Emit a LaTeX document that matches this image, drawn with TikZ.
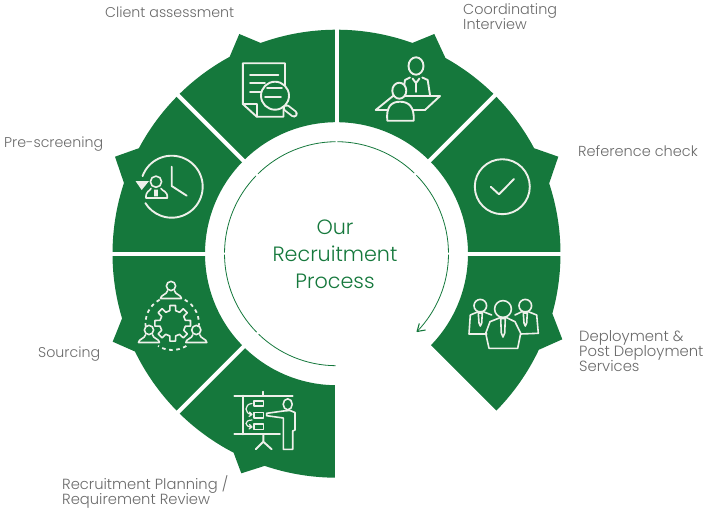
\documentclass[tikz,border=0pt]{standalone}
\usepackage{fontspec}
\setmainfont{Poppins Light}
\usetikzlibrary{calc}
\definecolor{brandgreen}{HTML}{15783C}
\definecolor{iconwhite}{HTML}{EEF0EA}
\definecolor{labelgray}{HTML}{6A6A6A}
\newcommand{\lblsize}[1]{\fontsize{#1}{15}\selectfont}
\tikzset{
  icon/.style={draw=iconwhite,line width=1.9pt,line join=round,line cap=round},
  iconthin/.style={icon,line width=1.6pt},
  iconfill/.style={icon,fill=brandgreen},
  dashring/.style={icon,line width=1.8pt,dash pattern=on 3.6pt off 3.6pt,line cap=butt},
  lbl/.style={anchor=west,align=left,inner sep=0pt,text=labelgray,font=\lblsize{14.2}},
  centertext/.style={align=center,inner sep=0pt,text=brandgreen,font=\fontsize{20.7}{27}\selectfont},
  thin ring/.style={draw=brandgreen,line width=0.8pt},
  member/.pic={
    \draw[iconthin] (0,0) circle (4.6);
    \draw[iconthin] (-10.5,-12.5) -- (10.5,-12.5) .. controls (10.5,-9) and (4,-8.5) .. (3.5,-4.8)
       (-3.5,-4.8) .. controls (-4,-8.5) and (-10.5,-9) .. (-10.5,-12.5);
  }
}
\begin{document}
\begin{tikzpicture}[x=1pt,y=1pt]
\useasboundingbox (0,-511) rectangle (710,0);
\coordinate (c) at (336.5,-253.7);
% ring
\fill[brandgreen] ($(c)+(270:224)$) arc[start angle=270,end angle=251.3,radius=224]
  -- (241.3,-473.3) -- ($(c)+(242.65:224)$) arc[start angle=242.65,end angle=205.9,radius=224]
  -- (112.7,-341.7) -- ($(c)+(196.8:224)$) arc[start angle=196.8,end angle=161.6,radius=224]
  -- (115,-156.7) -- ($(c)+(151.9:224)$) arc[start angle=151.9,end angle=118.5,radius=224]
  -- (239.3,-34) -- ($(c)+(109.8:224)$) arc[start angle=109.8,end angle=70.2,radius=224]
  -- (434.3,-34) -- ($(c)+(60.9:224)$) arc[start angle=60.9,end angle=28.1,radius=224]
  -- (558.3,-156.7) -- ($(c)+(18.3:224)$) arc[start angle=18.3,end angle=-15.5,radius=224]
  -- (562.3,-339.3) -- ($(c)+(-25.4:224)$) arc[start angle=-25.4,end angle=-45,radius=224]
  -- ($(c)+(-45:131.5)$) arc[start angle=-45,end angle=270,radius=131.5] -- cycle;
% gaps
\foreach \a in {0,45,90,135,180,225,270,315}
  \draw[white,line width=4pt] ($(c)+(\a:122)$) -- ($(c)+(\a:236)$);
% inner thin ring
\draw[thin ring] ($(c)+(269.5:112)$) arc[start angle=269.5,end angle=226,radius=112];
\draw[thin ring] ($(c)+(224.5:112)$) arc[start angle=224.5,end angle=180.5,radius=112];
\draw[thin ring] ($(c)+(179.5:112)$) arc[start angle=179.5,end angle=136,radius=112];
\draw[thin ring] ($(c)+(134.5:112)$) arc[start angle=134.5,end angle=90.5,radius=112];
\draw[thin ring] ($(c)+(89.5:112)$) arc[start angle=89.5,end angle=46,radius=112];
\draw[thin ring] ($(c)+(44.5:112)$) arc[start angle=44.5,end angle=0.5,radius=112];
\draw[thin ring] ($(c)+(-0.5:112)$) arc[start angle=-0.5,end angle=-44,radius=112] coordinate (tip);
\draw[thin ring,line width=1.1pt,line join=round] (419.3,-323.5) -- (tip) -- (425.5,-330);
\node[centertext] (title) at (335,-254.5) {Our\\Recruitment\\Process};
% labels
\node[lbl] (l1) at (105,-12) {Client assessment};
\node[lbl,font=\lblsize{14.4}] (l2) at (463,-17) {Coordinating\\Interview};
\node[lbl,font=\lblsize{14.5}] (l3) at (578,-151.5) {Reference check};
\node[lbl,font=\lblsize{14.8}] (l4) at (579,-351.5) {Deployment \&\\Post Deployment\\Services};
\node[lbl,font=\lblsize{14.7}] (l5) at (62,-492) {Recruitment Planning /\\Requirement Review};
\node[lbl] (l6) at (38,-354) {Sourcing};
\node[lbl] (l7) at (4,-144) {Pre-screening};
% client assessment icon
\draw[icon] (285,-85) -- (285,-63.3) -- (242.8,-63.3) -- (242.8,-104) -- (256.7,-116.7) -- (283.5,-116.7) -- (283.5,-108);
\draw[icon] (242.8,-104) -- (256.7,-104) -- (256.7,-116.7);
\draw[icon] (250,-75.3) -- (278.3,-75.3) (250,-83.3) -- (265,-83.3) (250,-91.7) -- (261.7,-91.7);
\draw[iconfill] (275,-95.7) circle (14);
\draw[icon] (267,-88.3) -- (282,-88.3) (265,-97) -- (281,-97);
\draw[icon,line width=7.5pt] (286.5,-108) -- (294,-113.8);
\draw[brandgreen,line width=3.8pt,line cap=round] (286.5,-108) -- (294,-113.8);
% interview icon
\draw[icon] (416,-66) ellipse (7.5 and 8.7);
\draw[icon] (403.5,-90) -- (405,-80) -- (410,-77.5) (422.3,-77.5) -- (427.7,-80) -- (430,-95);
\draw[icon] (412.5,-78.5) -- (416,-83) -- (419.5,-78.5) (416,-83) -- (416,-92);
\draw[icon] (393,-96) -- (440,-96) -- (425,-110) -- (375.7,-110) -- cycle;
\draw[iconfill] (387.3,-120.7) .. controls (386,-107) and (391,-101.7) .. (400,-101.7) .. controls (409,-101.7) and (414.5,-107) .. (413.7,-120.7) -- cycle;
\draw[iconfill] (399.3,-90.7) ellipse (7 and 8);
% reference check icon
\draw[icon] (502.3,-186.7) circle (27.5);
\draw[icon] (490.7,-186.7) -- (499,-194.3) -- (514,-179);
% deployment icon
\draw[iconthin] (480.3,-305.7) circle (6.3) (525.3,-305.7) circle (6.3);
\draw[iconthin] (486.7,-334) -- (469,-334) -- (470.3,-315) -- (478.3,-311.7) -- (483.3,-311.7) -- (491.7,-315);
\draw[iconthin] (515,-315) -- (521.7,-311.7) -- (528.3,-311.7) -- (536.7,-315) -- (538.3,-333.3) -- (520.7,-334);
\draw[iconthin] (478.3,-313) -- (479,-323) -- (480.3,-326) -- (481.7,-323) -- (482.3,-313) -- cycle;
\draw[iconthin] (523.3,-313) -- (524,-323) -- (525.3,-326) -- (526.7,-323) -- (527.3,-313) -- cycle;
\draw[iconthin] (503,-309) circle (8.4);
\draw[iconthin] (489,-348.3) -- (485.7,-333.3) -- (490,-321.7) -- (500,-317.7) -- (506.7,-317.7) -- (515,-321.7) -- (520.7,-333.3) -- (517.7,-348.3) -- cycle;
\draw[iconthin] (500.7,-318.5) -- (501.3,-333) -- (503,-337) -- (504.7,-333) -- (505.3,-318.5) -- cycle;
% planning icon
\draw[icon] (234.3,-395.7) -- (292.7,-395.7) (263.3,-391.7) -- (263.3,-395.7);
\draw[icon] (234.3,-434.3) -- (280,-434.3) (242.7,-395.7) -- (242.7,-434.3);
\draw[iconthin] (254,-400.7) rectangle (263.3,-406) (254,-412.3) rectangle (263.3,-417.7) (254,-424) rectangle (263.3,-429.3);
\draw[icon,line width=1.2pt] (252,-403.5) .. controls (244,-404) and (244,-414) .. (252,-414.5) (249.5,-412) -- (252,-414.5) -- (249,-416.5);
\draw[icon,line width=1.2pt] (252,-420) .. controls (244,-420) and (244,-427) .. (252,-427) (249.5,-424.5) -- (252,-427) -- (249,-429);
\draw[icon] (263.3,-434.3) -- (263.3,-441.7) (255.7,-449.3) -- (263.3,-441.7) -- (271.7,-449.3);
\draw[iconthin] (287.7,-404.3) ellipse (4.5 and 5.5);
\draw[iconthin] (266.7,-413.3) -- (283.3,-411) -- (290,-410.5) -- (295,-412.5) -- (295,-430) -- (292.7,-431) -- (292.7,-449.3) -- (283.3,-449.3) -- (283.3,-418) -- (266.7,-415.7) -- cycle;
% sourcing icon
\draw[dashring] ($(172.2,-323.3)+(118:26.7)$) arc[start angle=118,end angle=192,radius=26.7];
\draw[dashring] ($(172.2,-323.3)+(62:26.7)$) arc[start angle=62,end angle=-12,radius=26.7];
\draw[dashring] ($(172.2,-323.3)+(-58:26.7)$) arc[start angle=-58,end angle=-122,radius=26.7];
\begin{scope}[shift={(172.7,-323.3)}]
\draw[iconthin] (-13:13)
  \foreach \a in {0,45,...,315} { -- (\a-13:13) -- (\a-9:18) -- (\a+9:18) -- (\a+13:13) } -- cycle;
\end{scope}
\pic at (171,-286) {member};
\pic at (149,-330) {member};
\pic at (196.3,-330) {member};
% pre-screening icon
\draw[icon] ($(171.7,-186.7)+(160:31)$) arc[start angle=160,end angle=-148,radius=31];
\fill[iconwhite] (135.5,-181) -- (149,-181) -- (141.7,-190) -- cycle;
\draw[icon] (171.7,-166.7) -- (171.7,-186) -- (186.7,-195.7);
\draw[iconthin] (156,-181.7) circle (5.6);
\draw[iconthin] (146,-198) -- (167.3,-198) .. controls (168,-191) and (162,-191) .. (161,-188.5)
  (151,-188.5) .. controls (150,-191) and (145.5,-191) .. (146,-198);
\draw[icon,line width=1.1pt] (155,-190) -- (155,-196) (157,-190) -- (157,-196);
\end{tikzpicture}
\end{document}
